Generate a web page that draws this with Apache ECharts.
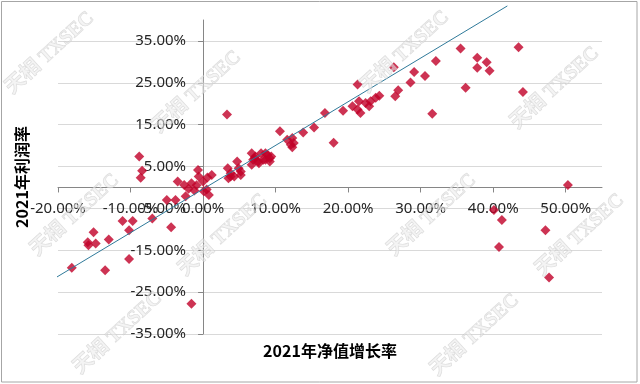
<!DOCTYPE html>
<html>
<head>
<meta charset="utf-8">
<script src="https://cdn.jsdelivr.net/npm/echarts@6/dist/echarts.min.js"></script>
<style>
html,body{margin:0;padding:0;background:#fff;}
#chart{width:640px;height:384px;}
</style>
</head>
<body>
<div id="chart"></div>
<script>
// 2021年净值增长率 (%)
var growth = [
  -18.1, -15.1, -15.9, -14.8, -15.8, -13.0, -13.5, -11.1, -9.7, -10.2,
  -10.2, -8.8, -8.4, -8.6, -7.0, -5.0, -3.8, -4.4, -1.6, -3.5,
  -0.7, -2.6, -1.6, -0.9, 0.0, 0.6, -2.0, -0.6, 0.5, 0.8,
  0.1, 1.2, -1.2, -2.4, 3.3, 3.4, 3.8, 4.3, 4.9, 5.2,
  4.7, 3.5, 5.2, 3.8, 6.7, 7.1, 8.0, 8.6, 8.9, 9.4,
  9.2, 7.6, 8.6, 6.7, 7.7, 7.2, 8.3, 9.2, 6.9, 10.6,
  11.6, 12.3, 12.1, 12.5, 12.3, 13.8, 15.3, 16.8, 18.0, 19.3,
  20.6, 21.3, 21.5, 21.3, 21.7, 22.4, 22.9, 23.1, 23.8, 24.3,
  26.3, 26.5, 26.9, 28.6, 29.1, 30.6, 31.6, 32.1, 35.5, 36.2,
  37.8, 37.8, 39.1, 39.5, 43.5, 44.1, 50.3, 40.1, 41.2, 47.2,
  40.8, 47.7
];
// 2021年利润率 (%)
var profit = [
  -19.2, -10.7, -13.1, -13.4, -13.8, -12.4, -19.8, -8.0, -8.0, -10.2,
  -17.1, 7.4, 4.0, 2.3, -7.4, -3.0, -3.0, -9.5, -27.8, 1.4,
  4.2, 0.6, 1.0, 0.5, 1.4, 2.4, -0.3, 2.6, -0.5, -1.8,
  -0.9, 3.0, -0.7, -2.1, 17.4, 4.6, 3.4, 2.6, 4.6, 3.8,
  6.2, 2.2, 3.0, 2.6, 8.2, 7.0, 8.2, 8.2, 7.8, 7.4,
  6.2, 6.2, 6.6, 5.4, 5.8, 7.4, 6.6, 7.0, 6.6, 13.4,
  11.4, 11.8, 10.2, 10.6, 9.6, 13.1, 14.3, 17.8, 10.7, 18.3,
  19.4, 24.6, 20.6, 18.6, 17.8, 20.2, 19.4, 20.6, 21.4, 21.9,
  28.7, 21.8, 23.2, 25.1, 27.6, 26.6, 17.6, 30.2, 33.2, 23.8,
  31.0, 28.6, 29.9, 27.9, 33.5, 22.8, 0.6, -5.4, -7.8, -10.2,
  -14.2, -21.5
];
// trendline end points (%)
var trendX = [-22.46, 41.95];
var trendY = [-23.79, 43.36];

var xTicks = {min: -20, max: 55, step: 10};
var yTicks = {min: -35, max: 40, step: 10};

var points = growth.map(function (g, i) { return [g, profit[i]]; });
var trend = trendX.map(function (x, i) { return [x, trendY[i]]; });

function pct(v) { return v.toFixed(2) + '%'; }

var G = {left: 58, top: 20, width: 544, height: 314};
// offsets that bring each axis to the other axis's zero
var yAxisOffset = -(0 - xTicks.min) / (xTicks.max - xTicks.min) * G.width;
var xAxisOffset = -(0 - yTicks.min) / (yTicks.max - yTicks.min) * G.height;

var wmText = '天相 TXSEC';
var wmPos = [[50,53],[197,92],[405,52],[555,88],[75,215],[223,235],[432,215],[580,235],[118,333],[475,335]];
var graphics = [{
  type: 'rect', z: 100, silent: true,
  shape: {x: 1.5, y: 1.5, width: 635.5, height: 380.5},
  style: {fill: 'none', stroke: '#a6a6a6', lineWidth: 1}
}];
wmPos.forEach(function (p) {
  graphics.push({
    type: 'text', x: p[0], y: p[1], rotation: 0.74, z: 100, silent: true,
    style: {
      text: wmText, font: 'bold 20px "Liberation Serif", "Noto Sans CJK SC"',
      fill: 'rgba(235,235,235,0.55)', stroke: 'rgba(190,190,190,0.55)', lineWidth: 0.8,
      align: 'center', verticalAlign: 'middle'
    }
  });
});

var chart = echarts.init(document.getElementById('chart'), null, {renderer: 'canvas'});
chart.setOption({
  animation: false,
  backgroundColor: '#ffffff',
  grid: {left: G.left, top: G.top, width: G.width, height: G.height, containLabel: false, outerBoundsMode: 'none'},
  xAxis: {
    type: 'value', min: xTicks.min, max: xTicks.max, interval: xTicks.step,
    position: 'bottom', offset: xAxisOffset,
    axisLine: {onZero: false, lineStyle: {color: '#868686', width: 1}},
    axisTick: {show: true, length: 5, inside: false, lineStyle: {color: '#868686'}},
    axisLabel: {formatter: pct, fontSize: 15, color: '#262626', margin: 14,
      fontFamily: '"Noto Sans", sans-serif', showMaxLabel: false},
    splitLine: {show: false},
    name: '2021年净值增长率', nameLocation: 'middle', nameGap: 155,
    nameTextStyle: {fontSize: 16, fontWeight: 'bold', color: '#000',
      fontFamily: '"Noto Sans CJK SC", sans-serif'}
  },
  yAxis: {
    type: 'value', min: yTicks.min, max: yTicks.max, interval: yTicks.step,
    position: 'left', offset: yAxisOffset,
    axisLine: {onZero: false, lineStyle: {color: '#868686', width: 1}},
    axisTick: {show: true, length: 5, inside: false, lineStyle: {color: '#868686'}},
    axisLabel: {formatter: pct, fontSize: 15, color: '#262626', margin: 17,
      fontFamily: '"Noto Sans", sans-serif', showMaxLabel: false},
    splitLine: {show: true, showMaxLine: false, lineStyle: {color: '#d9d9d9', width: 1}},
    name: '2021年利润率', nameLocation: 'middle', nameGap: 173,
    nameTextStyle: {fontSize: 16, fontWeight: 'bold', color: '#000',
      fontFamily: '"Noto Sans CJK SC", sans-serif'}
  },
  series: [{
    type: 'scatter', data: points, symbol: 'diamond', symbolSize: 10,
    itemStyle: {color: '#C00028'}, z: 2
  }, {
    type: 'line', data: trend, clip: false, symbol: 'none', z: 3,
    lineStyle: {color: '#2F7A9A', width: 1}
  }],
  graphic: graphics
});
</script>
</body>
</html>
